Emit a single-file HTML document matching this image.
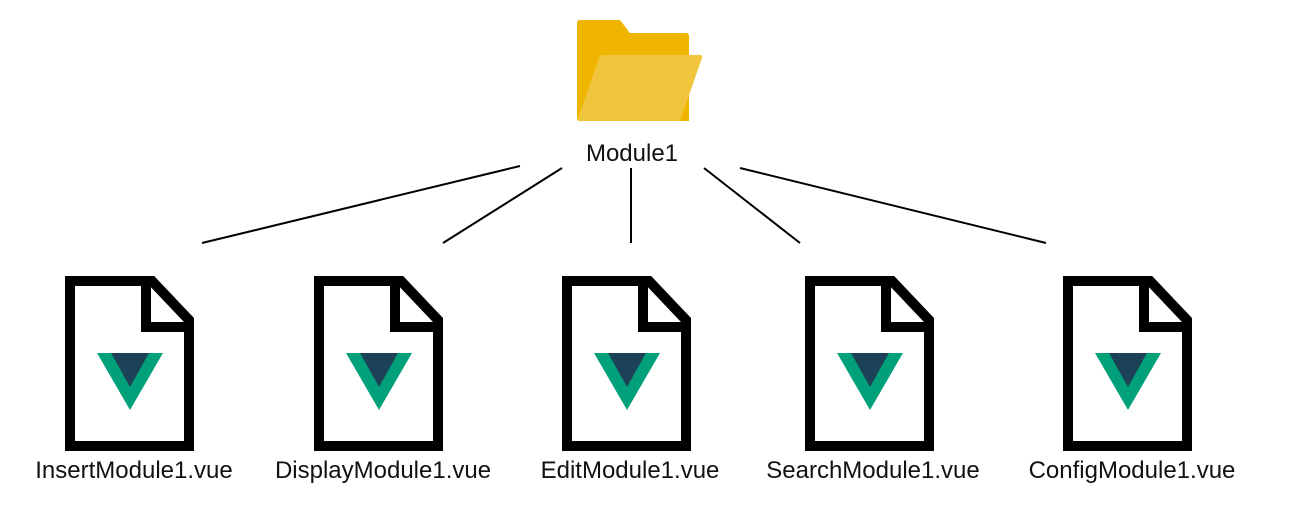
<!DOCTYPE html>
<html><head><style>
html,body{margin:0;padding:0;background:#fff;}
svg{display:block}
text{font-family:"Liberation Sans",sans-serif;font-size:24px;fill:#111;}
</style></head><body>
<svg width="1296" height="521" viewBox="0 0 1296 521" xmlns="http://www.w3.org/2000/svg">
<defs>
<g id="f">
<path d="M5,5 L87,5 L124,44 L124,170 L5,170 Z" fill="#fff" stroke="#000" stroke-width="10" stroke-linejoin="miter"/>
<polyline points="81,5 81,51 124,51" fill="none" stroke="#000" stroke-width="10"/>
<polygon points="32,77 98,77 65,134" fill="#00a07a"/>
<polygon points="46,77 84,77 65,111" fill="#1d4258"/>
</g>
</defs>
<path d="M580,20 L620,20 L630,33 L686,33 Q689,33 689,36 L689,121 L580,121 Q577,121 577,118 L577,23 Q577,20 580,20 Z" fill="#efb500"/>
<path d="M602,55 L700,55 Q703,55 702,58 L681,118 Q680,121 677,121 L580,121 Q577,121 578,118 L599,58 Q600,55 602,55 Z" fill="#f0c53c"/>
<text x="632" y="161" text-anchor="middle">Module1</text>
<g stroke="#000" stroke-width="2">
<line x1="520" y1="166" x2="202" y2="243"/>
<line x1="562" y1="168" x2="443" y2="243"/>
<line x1="631" y1="168" x2="631" y2="243"/>
<line x1="704" y1="168" x2="800" y2="243"/>
<line x1="740" y1="168" x2="1046" y2="243"/>
</g>
<use href="#f" transform="translate(65,276)"/>
<use href="#f" transform="translate(314,276)"/>
<use href="#f" transform="translate(562,276)"/>
<use href="#f" transform="translate(805,276)"/>
<use href="#f" transform="translate(1063,276)"/>
<text x="134" y="478" text-anchor="middle">InsertModule1.vue</text>
<text x="383" y="478" text-anchor="middle">DisplayModule1.vue</text>
<text x="630" y="478" text-anchor="middle">EditModule1.vue</text>
<text x="873" y="478" text-anchor="middle">SearchModule1.vue</text>
<text x="1132" y="478" text-anchor="middle">ConfigModule1.vue</text>
</svg>
</body></html>
